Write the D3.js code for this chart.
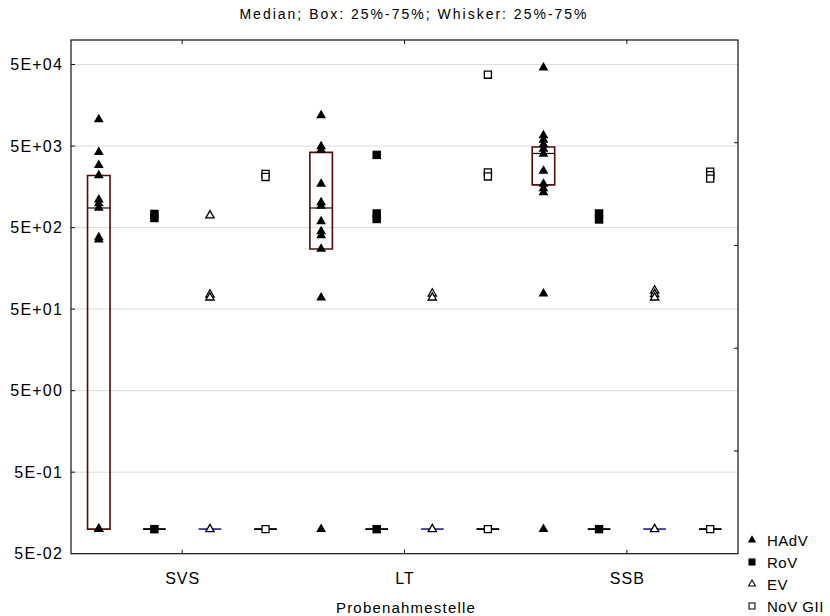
<!DOCTYPE html>
<html>
<head>
<meta charset="utf-8">
<script src="https://cdn.jsdelivr.net/npm/d3@7"></script>
<style>
  body { margin: 0; background: #fff; }
  svg { display: block; font-family: "Liberation Sans", Arial, sans-serif; }
</style>
</head>
<body>
<svg width="830" height="616"></svg>
<script>
const categories = ["SVS", "LT", "SSB"];
const seriesNames = ["HAdV", "RoV", "EV", "NoV GII"];

// raw values per category (SVS, LT, SSB)
const hadv = [
    [10600, 4220, 2920, 2180, 1100, 990, 870, 380, 355, 0.1, 0.1, 0.1, 0.1],
    [11900, 4960, 4490, 1720, 1020, 920, 595, 448, 400, 273, 69, 0.1],
    [45700, 6760, 5960, 5250, 4620, 4010, 2480, 1720, 1510, 1350, 77.5, 0.1]
];
const rov = [
    [735, 656, 0.1],
    [3900, 745, 638, 0.1],
    [745, 629, 0.1]
];
const ev = [
    [704, 75.4, 69.2, 0.1],
    [77.5, 69.2, 0.1],
    [84.4, 76.4, 69.2, 0.1]
];
const nov = [
    [2280, 2090, 0.1],
    [37500, 2380, 2120, 0.1],
    [2425, 2195, 1990, 0.1]
];

// box stats (25%, median, 75%) per series, per category
const boxLow = [[0.1, 273, 1670], [0.1, 0.1, 0.1], [0.1, 0.1, 0.1], [0.1, 0.1, 0.1]];
const boxMid = [[870, 870, 4060], [0.1, 0.1, 0.1], [0.1, 0.1, 0.1], [0.1, 0.1, 0.1]];
const boxHigh = [[2180, 4190, 4860], [0.1, 0.1, 0.1], [0.1, 0.1, 0.1], [0.1, 0.1, 0.1]];

const yTicks = [0.05, 0.5, 5, 50, 500, 5000, 50000];
const yTickLabels = ["5E-02", "5E-01", "5E+00", "5E+01", "5E+02", "5E+03", "5E+04"];

const seriesValues = [hadv, rov, ev, nov];
const boxColors = ["#5a0808", "#000", "#3c3ca6", "#000"];
const medColors = ["#111", "#000", "#3c3ca6", "#000"];

const svg = d3.select("svg");
const plotLeft = 71, plotRight = 738, plotTop = 40, plotBottom = 553.7;

const slots = [];
categories.forEach(c => seriesNames.forEach(s => slots.push(c + "|" + s)));

const x = d3.scalePoint().domain(slots).range([plotLeft, plotRight]).padding(0.5);
const y = d3.scaleLog().domain([0.05, 1e5]).range([plotBottom, plotTop]);
const catX = c => (x(c + "|" + seriesNames[1]) + x(c + "|" + seriesNames[2])) / 2;

// grid
svg.append("g").selectAll("line")
    .data(yTicks.slice(1))
    .join("line")
    .attr("x1", plotLeft).attr("x2", plotRight)
    .attr("y1", d => y(d)).attr("y2", d => y(d))
    .attr("stroke", "#dcdcdc").attr("stroke-width", 1);

// frame
svg.append("rect")
    .attr("x", plotLeft).attr("y", plotTop)
    .attr("width", plotRight - plotLeft).attr("height", plotBottom - plotTop)
    .attr("fill", "none").attr("stroke", "#111").attr("stroke-width", 1.2);

// left ticks + labels
const yAxis = svg.append("g");
yAxis.selectAll("line")
    .data(yTicks.slice(1))
    .join("line")
    .attr("x1", plotLeft).attr("x2", plotLeft + 4)
    .attr("y1", d => y(d)).attr("y2", d => y(d))
    .attr("stroke", "#111");
yAxis.selectAll("text")
    .data(yTicks)
    .join("text")
    .attr("x", 63).attr("y", d => y(d))
    .attr("text-anchor", "end").attr("dominant-baseline", "central")
    .attr("font-size", 16).attr("letter-spacing", 1.2)
    .text((d, i) => yTickLabels[i]);

// right ticks (5 equal parts)
const yr = d3.scaleLinear().domain([0, 5]).range([plotBottom, plotTop]);
svg.append("g").selectAll("line")
    .data([1, 2, 3, 4])
    .join("line")
    .attr("x1", plotRight - 4).attr("x2", plotRight)
    .attr("y1", d => yr(d)).attr("y2", d => yr(d))
    .attr("stroke", "#111");

// category ticks top & bottom
const xAxis = svg.append("g");
categories.forEach(c => {
    xAxis.append("line").attr("x1", catX(c)).attr("x2", catX(c))
        .attr("y1", plotBottom).attr("y2", plotBottom - 4).attr("stroke", "#111");
    xAxis.append("line").attr("x1", catX(c)).attr("x2", catX(c))
        .attr("y1", plotTop).attr("y2", plotTop + 4).attr("stroke", "#111");
    xAxis.append("text").attr("x", catX(c) + 0.5).attr("y", 584)
        .attr("text-anchor", "middle").attr("font-size", 16).attr("letter-spacing", 1)
        .text(c);
});

// boxes
const boxW = 22.5;
const boxes = [];
seriesNames.forEach((s, si) => categories.forEach((c, ci) => {
    boxes.push({ s, si, c, lo: boxLow[si][ci], md: boxMid[si][ci], hi: boxHigh[si][ci] });
}));
const boxG = svg.append("g");
boxG.selectAll("line.med")
    .data(boxes)
    .join("line")
    .attr("class", "med")
    .attr("x1", d => x(d.c + "|" + d.s) - boxW / 2)
    .attr("x2", d => x(d.c + "|" + d.s) + boxW / 2)
    .attr("y1", d => y(d.md)).attr("y2", d => y(d.md))
    .attr("stroke", d => medColors[d.si]).attr("stroke-width", 1.2);
boxG.selectAll("path.box")
    .data(boxes)
    .join("path")
    .attr("class", "box")
    .attr("d", d => {
        const cx = x(d.c + "|" + d.s);
        return `M${cx - boxW / 2},${y(d.hi)}H${cx + boxW / 2}V${y(d.lo)}H${cx - boxW / 2}Z`;
    })
    .attr("fill", "none")
    .attr("stroke", d => boxColors[d.si]).attr("stroke-width", 1.6);

// points
const shapes = [
    { type: d3.symbolTriangle, size: 42, fill: "#000", stroke: "none" },
    { type: d3.symbolSquare, size: 72, fill: "#000", stroke: "none" },
    { type: d3.symbolTriangle, size: 30, fill: "#fff", stroke: "#000" },
    { type: d3.symbolSquare, size: 50, fill: "#fff", stroke: "#000" }
];
const points = [];
seriesValues.forEach((vals, si) => vals.forEach((arr, ci) => arr.forEach(v => {
    points.push({ si, c: categories[ci], s: seriesNames[si], v });
})));
svg.append("g").selectAll("path")
    .data(points)
    .join("path")
    .attr("transform", d => `translate(${x(d.c + "|" + d.s)},${y(d.v)})`)
    .attr("d", d => d3.symbol().type(shapes[d.si].type).size(shapes[d.si].size)())
    .attr("fill", d => shapes[d.si].fill)
    .attr("stroke", d => shapes[d.si].stroke)
    .attr("stroke-width", 1.3);

// title and axis title
svg.append("text").attr("x", 414).attr("y", 19)
    .attr("text-anchor", "middle").attr("font-size", 14).attr("letter-spacing", 2)
    .text("Median; Box: 25%-75%; Whisker: 25%-75%");
svg.append("text").attr("x", 406).attr("y", 613)
    .attr("text-anchor", "middle").attr("font-size", 15).attr("letter-spacing", 1.2)
    .text("Probenahmestelle");

// legend
const legend = svg.append("g");
seriesNames.forEach((s, i) => {
    const ly = 540 + i * 22;
    legend.append("path")
        .attr("transform", `translate(752,${ly})`)
        .attr("d", d3.symbol().type(shapes[i].type).size(shapes[i].size * 0.7)())
        .attr("fill", shapes[i].fill).attr("stroke", shapes[i].stroke).attr("stroke-width", 1.1);
    legend.append("text").attr("x", 767).attr("y", ly)
        .attr("dominant-baseline", "central")
        .attr("font-size", 15).attr("letter-spacing", 0.5)
        .text(s);
});
</script>
</body>
</html>
